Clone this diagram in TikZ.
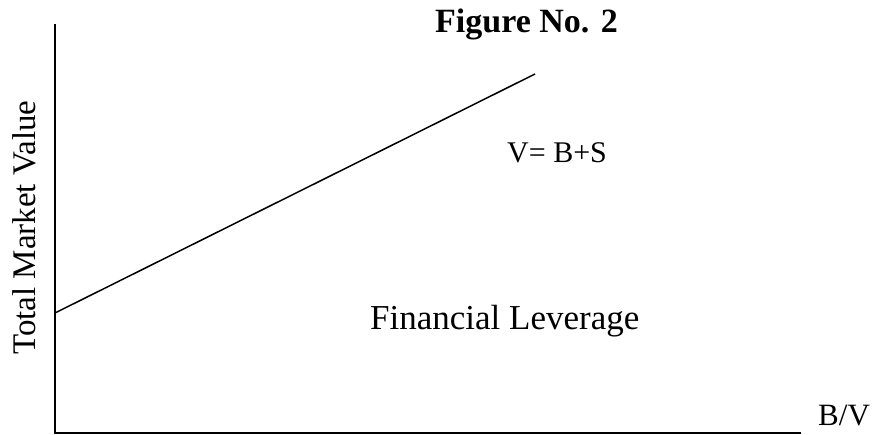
\documentclass[tikz,border=0pt]{standalone}
\usepackage{fontspec}
\setmainfont{Liberation Serif}
\begin{document}
\begin{tikzpicture}[x=1pt,y=-1pt,
  axis/.style={line width=1.6pt,line cap=rect},
  curve/.style={line width=1.5pt},
  lbl/.style={inner sep=0pt,anchor=base west}]
\useasboundingbox (0,0) rectangle (873,435);
\coordinate (origin) at (55,433);
\coordinate (ytop) at (55,25);
\coordinate (xend) at (800,433);
\coordinate (lstart) at (55,313);
\coordinate (lend) at (535,74);
\draw[axis] (ytop) -- (origin) -- (xend);
\draw[curve] (lstart) -- (lend);
\node[lbl,font=\fontsize{34}{40}\selectfont\bfseries] (title) at (435,33) {Figure No. 2};
\node[lbl,font=\fontsize{30}{36}\selectfont] (veq) at (507,163) {V= B+S};
\node[lbl,font=\fontsize{35}{42}\selectfont] (fl) at (370,330) {Financial Leverage};
\node[lbl,font=\fontsize{31}{36}\selectfont] (bv) at (818,425) {B/V};
\node[lbl,rotate=90,font=\fontsize{33}{38}\selectfont] (tmv) at (35,355) {Total Market Value};
\end{tikzpicture}
\end{document}
